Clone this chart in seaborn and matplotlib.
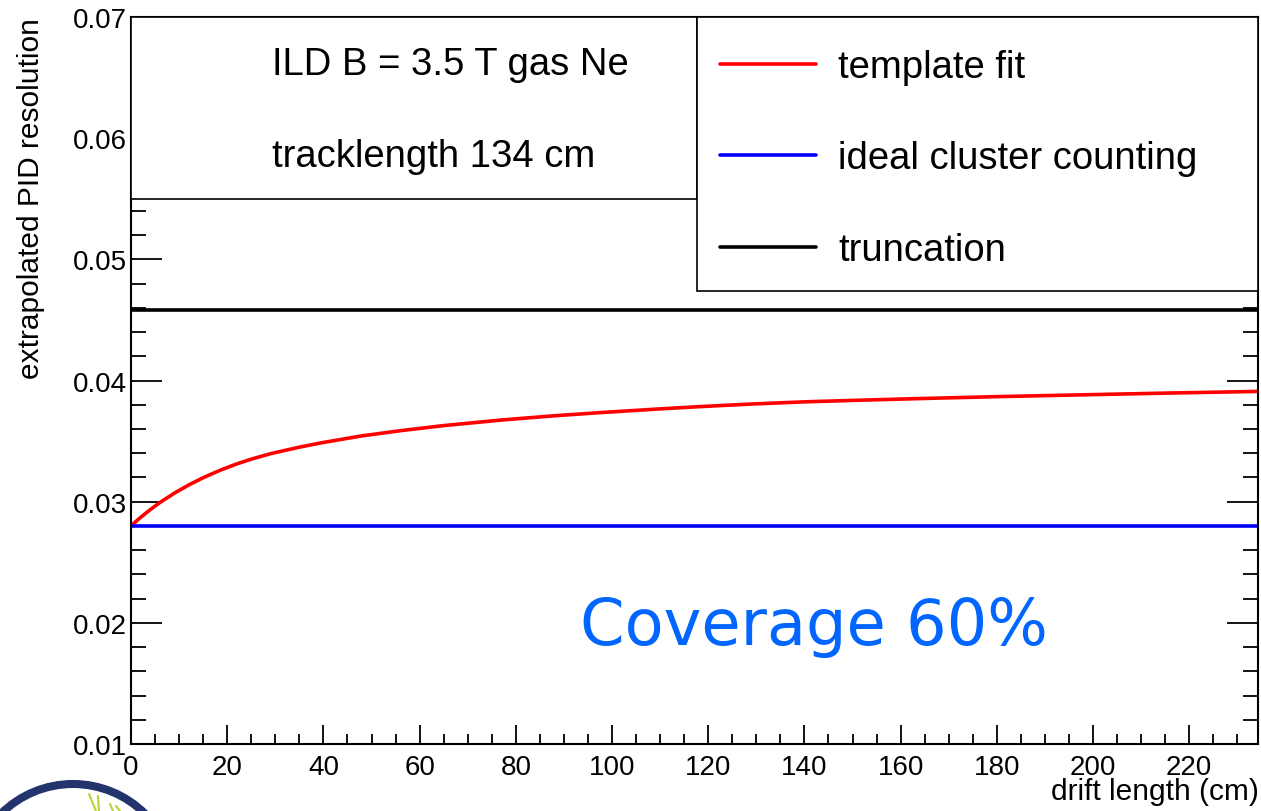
import matplotlib
matplotlib.use("Agg")
import matplotlib.pyplot as plt
import seaborn as sns
import pandas as pd
from matplotlib.patches import Rectangle, Circle
from matplotlib.lines import Line2D
from matplotlib.ticker import MultipleLocator, FormatStrFormatter

# ---------------- data ----------------
template_x = [0, 2, 4, 6, 9, 12, 15, 18.5, 22, 25, 29, 35, 40, 48, 56, 65, 77, 88,
              97.5, 110, 118, 129, 140, 152, 163, 180, 198, 215, 234.3]
template_y = [0.02800, 0.02871, 0.02934, 0.02993, 0.03070, 0.03138, 0.03198, 0.03259,
              0.03312, 0.03351, 0.03396, 0.03450, 0.03489, 0.03543, 0.03586, 0.03628,
              0.03674, 0.03709, 0.03735, 0.03766, 0.03784, 0.03806, 0.03824, 0.03838,
              0.03850, 0.03867, 0.03882, 0.03896, 0.03910]
ideal_x = [0, 234.3]
ideal_y = [0.0280, 0.0280]
trunc_x = [0, 234.3]
trunc_y = [0.0458, 0.0458]

series_names = ["template fit", "ideal cluster counting", "truncation"]
series_colors = ["#ff0000", "#0000ff", "#000000"]
x_ticks = [0, 20, 40, 60, 80, 100, 120, 140, 160, 180, 200, 220]
y_ticks = [0.01, 0.02, 0.03, 0.04, 0.05, 0.06, 0.07]
info_lines = ["ILD B = 3.5 T gas Ne", "tracklength 134 cm"]
coverage_text = "Coverage 60%"

df = pd.concat([
    pd.DataFrame({"drift": template_x, "res": template_y, "method": series_names[0]}),
    pd.DataFrame({"drift": ideal_x, "res": ideal_y, "method": series_names[1]}),
    pd.DataFrame({"drift": trunc_x, "res": trunc_y, "method": series_names[2]}),
], ignore_index=True)

# ---------------- style ----------------
sns.set_style("ticks")
plt.rcParams["font.family"] = ["Liberation Sans", "DejaVu Sans"]
plt.rcParams["text.color"] = "black"
plt.rcParams["axes.labelcolor"] = "black"
plt.rcParams["xtick.color"] = "black"
plt.rcParams["ytick.color"] = "black"

fig = plt.figure(figsize=(12.61, 8.12), dpi=100)
ax = fig.add_axes([0.1039, 0.0825, 0.8937, 0.8953])

sns.lineplot(data=df, x="drift", y="res", hue="method", hue_order=series_names,
             palette=dict(zip(series_names, series_colors)), linewidth=2.6,
             legend=False, ax=ax, estimator=None, sort=False)

ax.set_xlim(0, 234.3)
ax.set_ylim(0.01, 0.07)
ax.set_xticks(x_ticks)
ax.set_yticks(y_ticks)
ax.yaxis.set_major_formatter(FormatStrFormatter("%.2f"))
ax.xaxis.set_minor_locator(MultipleLocator(5))
ax.yaxis.set_minor_locator(MultipleLocator(0.002))

for s in ax.spines.values():
    s.set_linewidth(1.5)
    s.set_color("black")
    s.set_visible(True)

ax.tick_params(axis="both", which="both", direction="in", colors="black",
               labelcolor="black", width=1.3)
ax.tick_params(axis="y", which="major", length=22, labelsize=20, pad=3, right=True)
ax.tick_params(axis="y", which="minor", length=11, right=True)
ax.tick_params(axis="x", which="major", length=14, labelsize=20, pad=7, top=False)
ax.tick_params(axis="x", which="minor", length=7, top=False)

ax.set_ylabel("extrapolated PID resolution", fontsize=21.5, color="black")
ax.yaxis.set_label_coords(-0.0763, 0.752)
ax.set_xlabel("drift length (cm)", fontsize=21.5, ha="right", color="black")
ax.xaxis.set_label_coords(1.0005, -0.0455)

# info box (top-left)
ax.add_patch(Rectangle((0, 0.7497), 0.5022, 0.2503, transform=ax.transAxes,
                       facecolor="white", edgecolor="black", linewidth=1.2,
                       zorder=10, clip_on=False))
ax.text(0.1255, 0.9216, info_lines[0], transform=ax.transAxes, fontsize=27.5,
        ha="left", va="baseline", zorder=11, color="black")
ax.text(0.1255, 0.795, info_lines[1], transform=ax.transAxes, fontsize=27.5,
        ha="left", va="baseline", zorder=11, color="black")

# legend box (top-right)
ax.add_patch(Rectangle((0.5022, 0.6231), 0.4978, 0.3769, transform=ax.transAxes,
                       facecolor="white", edgecolor="black", linewidth=1.2,
                       zorder=10, clip_on=False))
handles = [Line2D([], [], color=c, linewidth=2.6) for c in series_colors]
leg = ax.legend(handles, series_names, loc="upper left",
                bbox_to_anchor=(0.4942, 1.0), bbox_transform=ax.transAxes,
                frameon=False, fontsize=27.5, handlelength=2.5, handletextpad=0.6,
                labelspacing=1.45, borderpad=0.84, borderaxespad=0.0)
for t in leg.get_texts():
    t.set_color("black")
leg.set_zorder(12)

# coverage annotation
ax.text(0.3984, 0.1376, coverage_text, transform=ax.transAxes, fontsize=46,
        family="DejaVu Sans", color="#0066ff", ha="left", va="baseline", zorder=11)

# partial logo at bottom-left corner
fig.add_artist(Circle((0.73, -0.75), 1.02, transform=fig.dpi_scale_trans,
                      facecolor="none", edgecolor="#22336e", linewidth=5.8))
for (x0, y0, x1, y1) in [(0.89, 0.17, 0.96, 0.0), (0.98, 0.15, 0.99, 0.0),
                         (1.10, 0.07, 1.13, 0.0), (1.16, 0.05, 1.20, 0.0)]:
    fig.add_artist(Line2D([x0, x1], [y0, y1], transform=fig.dpi_scale_trans,
                          color="#b5d334", linewidth=1.5))

fig.savefig("out.png", dpi=100)
